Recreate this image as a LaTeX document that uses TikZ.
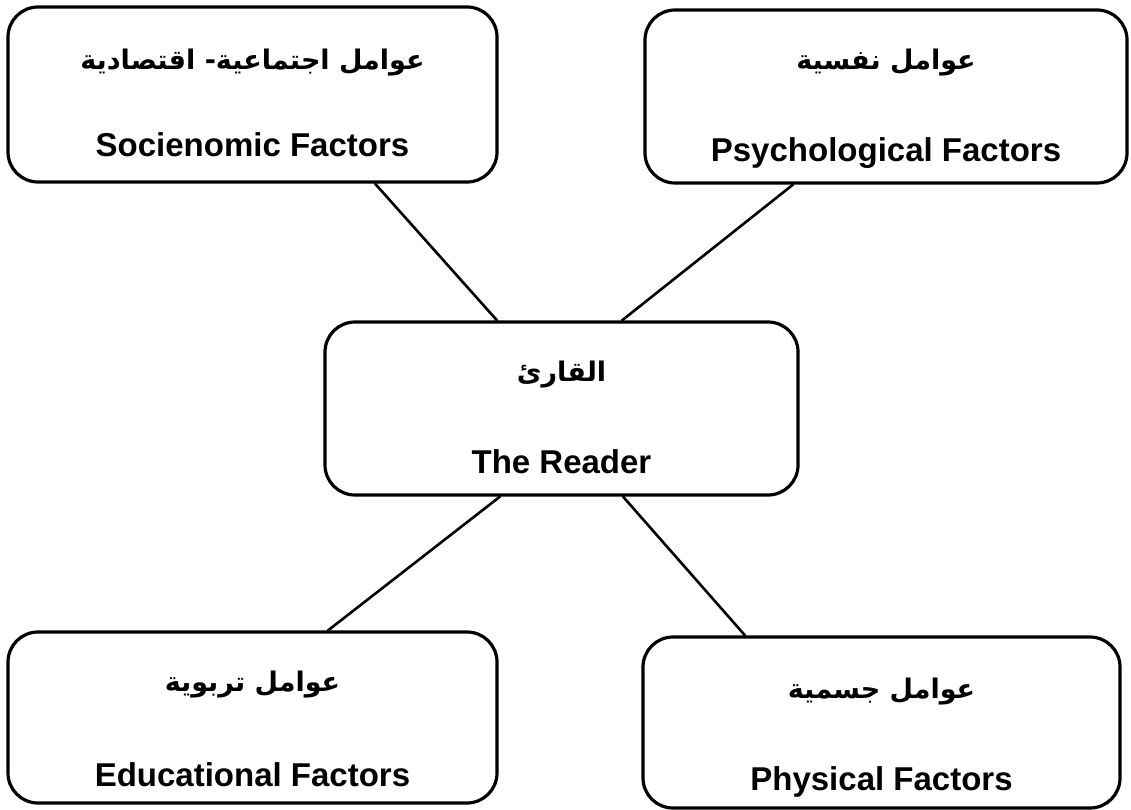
\documentclass[tikz,border=0pt]{standalone}
\usepackage{fontspec}
\setmainfont{Liberation Sans}
\newfontfamily\arabicfont[Script=Arabic]{DejaVu Sans}
\TeXXeTstate=1
\usetikzlibrary{positioning}

\begin{document}
\begin{tikzpicture}[x=1pt,y=-1pt,line cap=round,line join=round]
\useasboundingbox (0,0) rectangle (1131,810);
\tikzset{factorbox/.style={draw=black,line width=3.2pt,rounded corners=30pt,inner sep=0pt},
  artext/.style={font=\arabicfont\bfseries\fontsize{27}{32}\selectfont},
  entext/.style={font=\bfseries\fontsize{33}{40}\selectfont},
  link/.style={draw=black,line width=2.6pt}}
% boxes
\node[factorbox,minimum width=489pt,minimum height=175pt] (socio) at (252.5,94.5) {};
\node[factorbox,minimum width=482pt,minimum height=173pt] (psych) at (886,96.5) {};
\node[factorbox,minimum width=473pt,minimum height=173pt] (reader) at (561.5,408.5) {};
\node[factorbox,minimum width=489pt,minimum height=171pt] (edu) at (252.5,717.5) {};
\node[factorbox,minimum width=477pt,minimum height=171pt] (phys) at (881.5,722.5) {};
% labels
\node[artext] (socioAr) at (252.5,63) {\beginR عوامل اجتماعية- اقتصادية\endR};
\node[entext] (socioEn) at (252.5,145) {Socienomic Factors};
\node[artext] (psychAr) at (886,63) {\beginR عوامل نفسية\endR};
\node[entext] (psychEn) at (886,153) {Psychological Factors};
\node[artext] (readerAr) at (561.5,375) {\beginR القارئ\endR};
\node[entext] (readerEn) at (561.5,462) {The Reader};
\node[artext] (eduAr) at (252.5,685) {\beginR عوامل تربوية\endR};
\node[entext] (eduEn) at (252.5,775) {Educational Factors};
\node[artext] (physAr) at (881.5,692) {\beginR عوامل جسمية\endR};
\node[entext] (physEn) at (881.5,782) {Physical Factors};
% connectors
\draw[link] ([xshift=122.5pt]socio.south) -- ([xshift=-64.5pt]reader.north);
\draw[link] ([xshift=-93pt]psych.south) -- ([xshift=60.5pt]reader.north);
\draw[link] ([xshift=-61.5pt]reader.south) -- ([xshift=75.5pt]edu.north);
\draw[link] ([xshift=61.5pt]reader.south) -- ([xshift=-136.5pt]phys.north);
\end{tikzpicture}
\end{document}
